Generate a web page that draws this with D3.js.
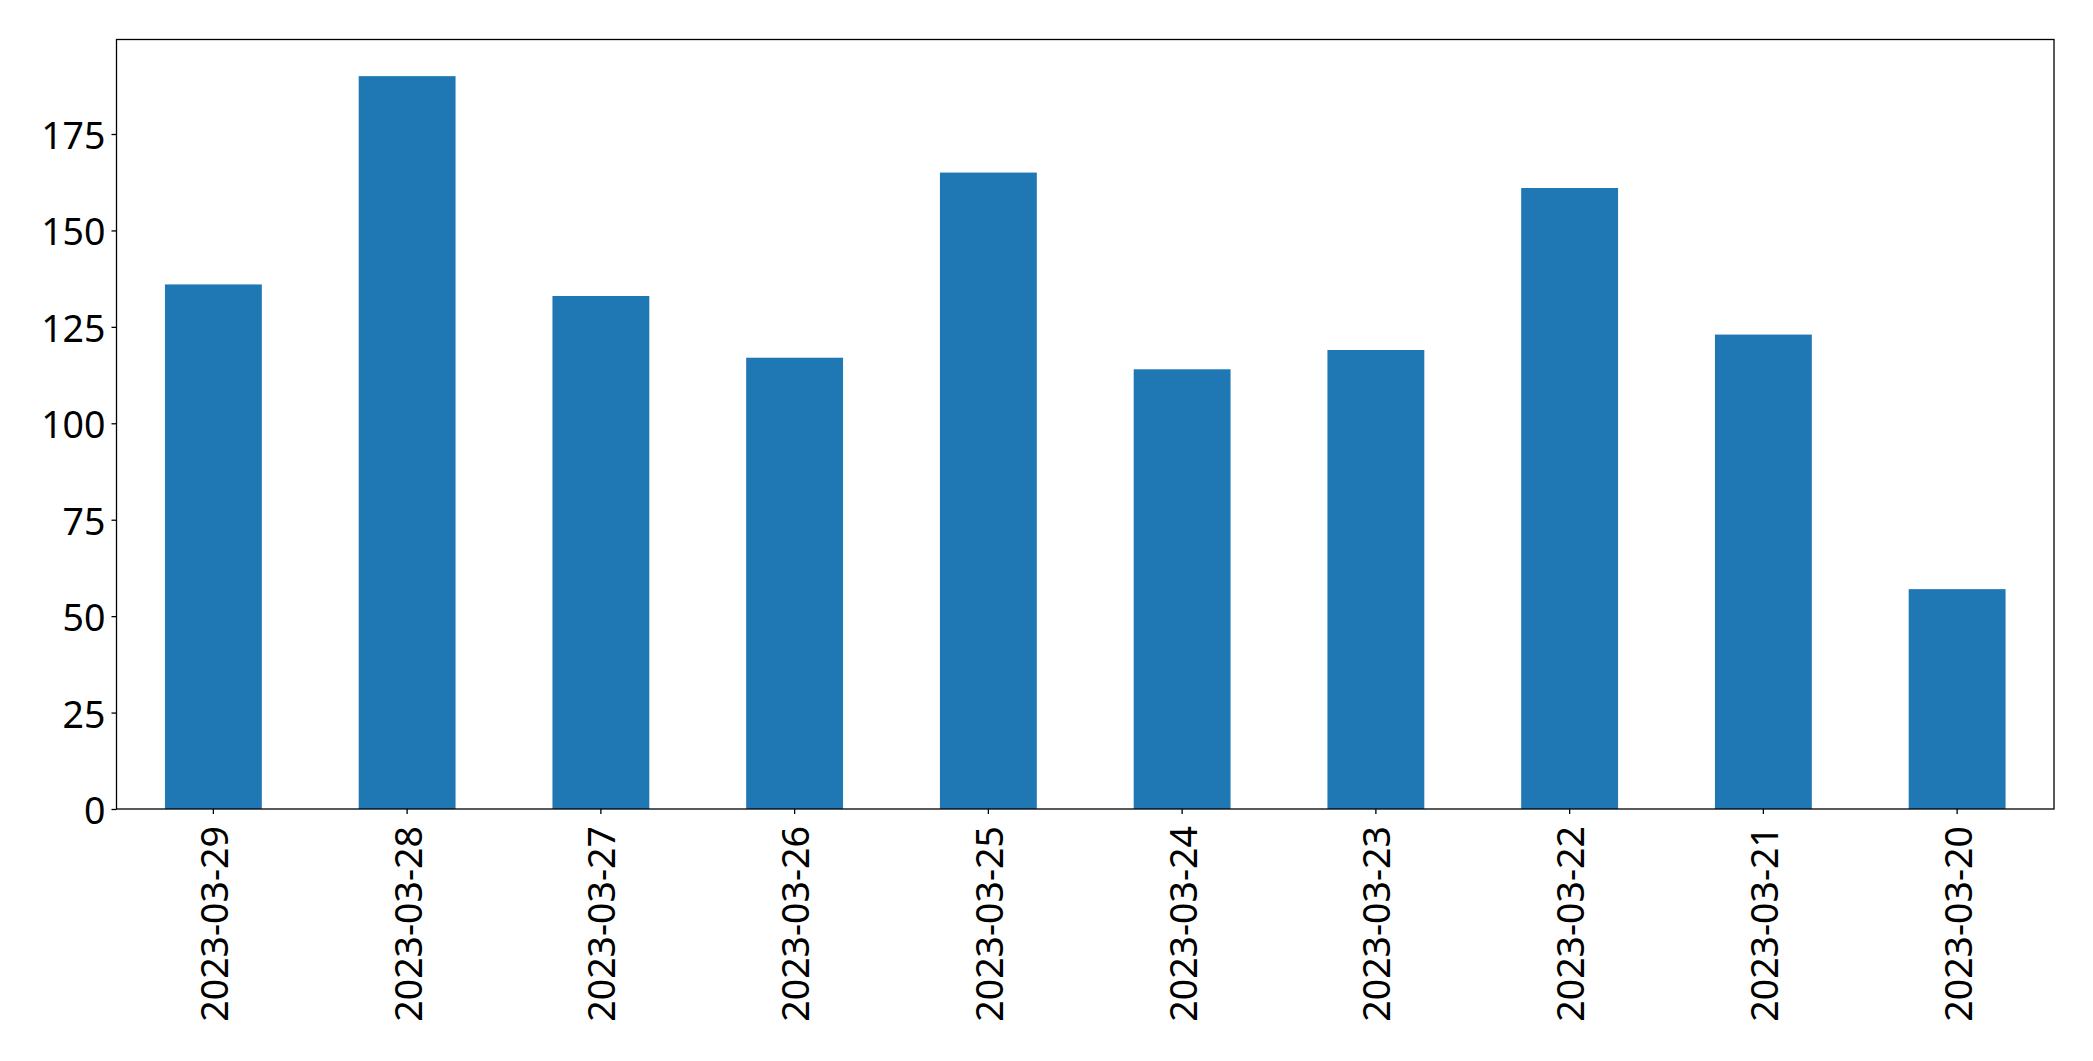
<!DOCTYPE html>
<html>
<head>
<meta charset="utf-8">
<script src="https://cdn.jsdelivr.net/npm/d3@7"></script>
<style>
  html, body { margin: 0; padding: 0; background: #fff; }
  svg { display: block; }
</style>
</head>
<body>
<svg id="chart" width="2093" height="1061"></svg>
<script>
const categories = ["2023-03-29","2023-03-28","2023-03-27","2023-03-26","2023-03-25","2023-03-24","2023-03-23","2023-03-22","2023-03-21","2023-03-20"];
const values = [136, 190, 133, 117, 165, 114, 119, 161, 123, 57];
const yTicks = [0, 25, 50, 75, 100, 125, 150, 175];

const W = 2093, H = 1061;
const margin = { left: 116.5, top: 39.5, right: 2054, bottom: 809 };
const svg = d3.select("#chart");

const x = d3.scaleBand()
  .domain(categories)
  .range([margin.left, margin.right])
  .paddingInner(0.5)
  .paddingOuter(0.25);

const yMax = d3.max(values) * 1.05;
const y = d3.scaleLinear().domain([0, yMax]).range([margin.bottom, margin.top]);

const font = "'Noto Sans', 'Open Sans', sans-serif";
const fs = 37.5;

// bars
svg.append("g").selectAll("rect")
  .data(values)
  .join("rect")
  .attr("x", (d, i) => x(categories[i]))
  .attr("width", x.bandwidth())
  .attr("y", d => y(d))
  .attr("height", d => y(0) - y(d))
  .attr("fill", "#1f77b4");

// y axis
const yAxis = d3.axisLeft(y).tickValues(yTicks).tickSize(5).tickPadding(6).tickFormat(d3.format("d"));
const gy = svg.append("g").attr("transform", `translate(${margin.left},0)`).call(yAxis);
gy.select(".domain").remove();
gy.selectAll(".tick line").attr("stroke", "#000").attr("stroke-width", 1.3);
gy.selectAll(".tick text").attr("font-family", font).attr("font-size", fs).attr("fill", "#000")
  .attr("dy", null).attr("dominant-baseline", "central");

// x axis
const xAxis = d3.axisBottom(x).tickSize(5).tickPadding(0);
const gx = svg.append("g").attr("transform", `translate(0,${margin.bottom})`).call(xAxis);
gx.select(".domain").remove();
gx.selectAll(".tick line").attr("stroke", "#000").attr("stroke-width", 1.3);
gx.selectAll(".tick text")
  .attr("font-family", font).attr("font-size", fs).attr("fill", "#000")
  .attr("y", 0).attr("dy", null)
  .attr("text-anchor", "end")
  .attr("dominant-baseline", "central")
  .attr("transform", "translate(0,17) rotate(-90)");

// frame
svg.append("rect")
  .attr("x", margin.left).attr("y", margin.top)
  .attr("width", margin.right - margin.left)
  .attr("height", margin.bottom - margin.top)
  .attr("fill", "none").attr("stroke", "#000").attr("stroke-width", 1.3);
</script>
</body>
</html>
